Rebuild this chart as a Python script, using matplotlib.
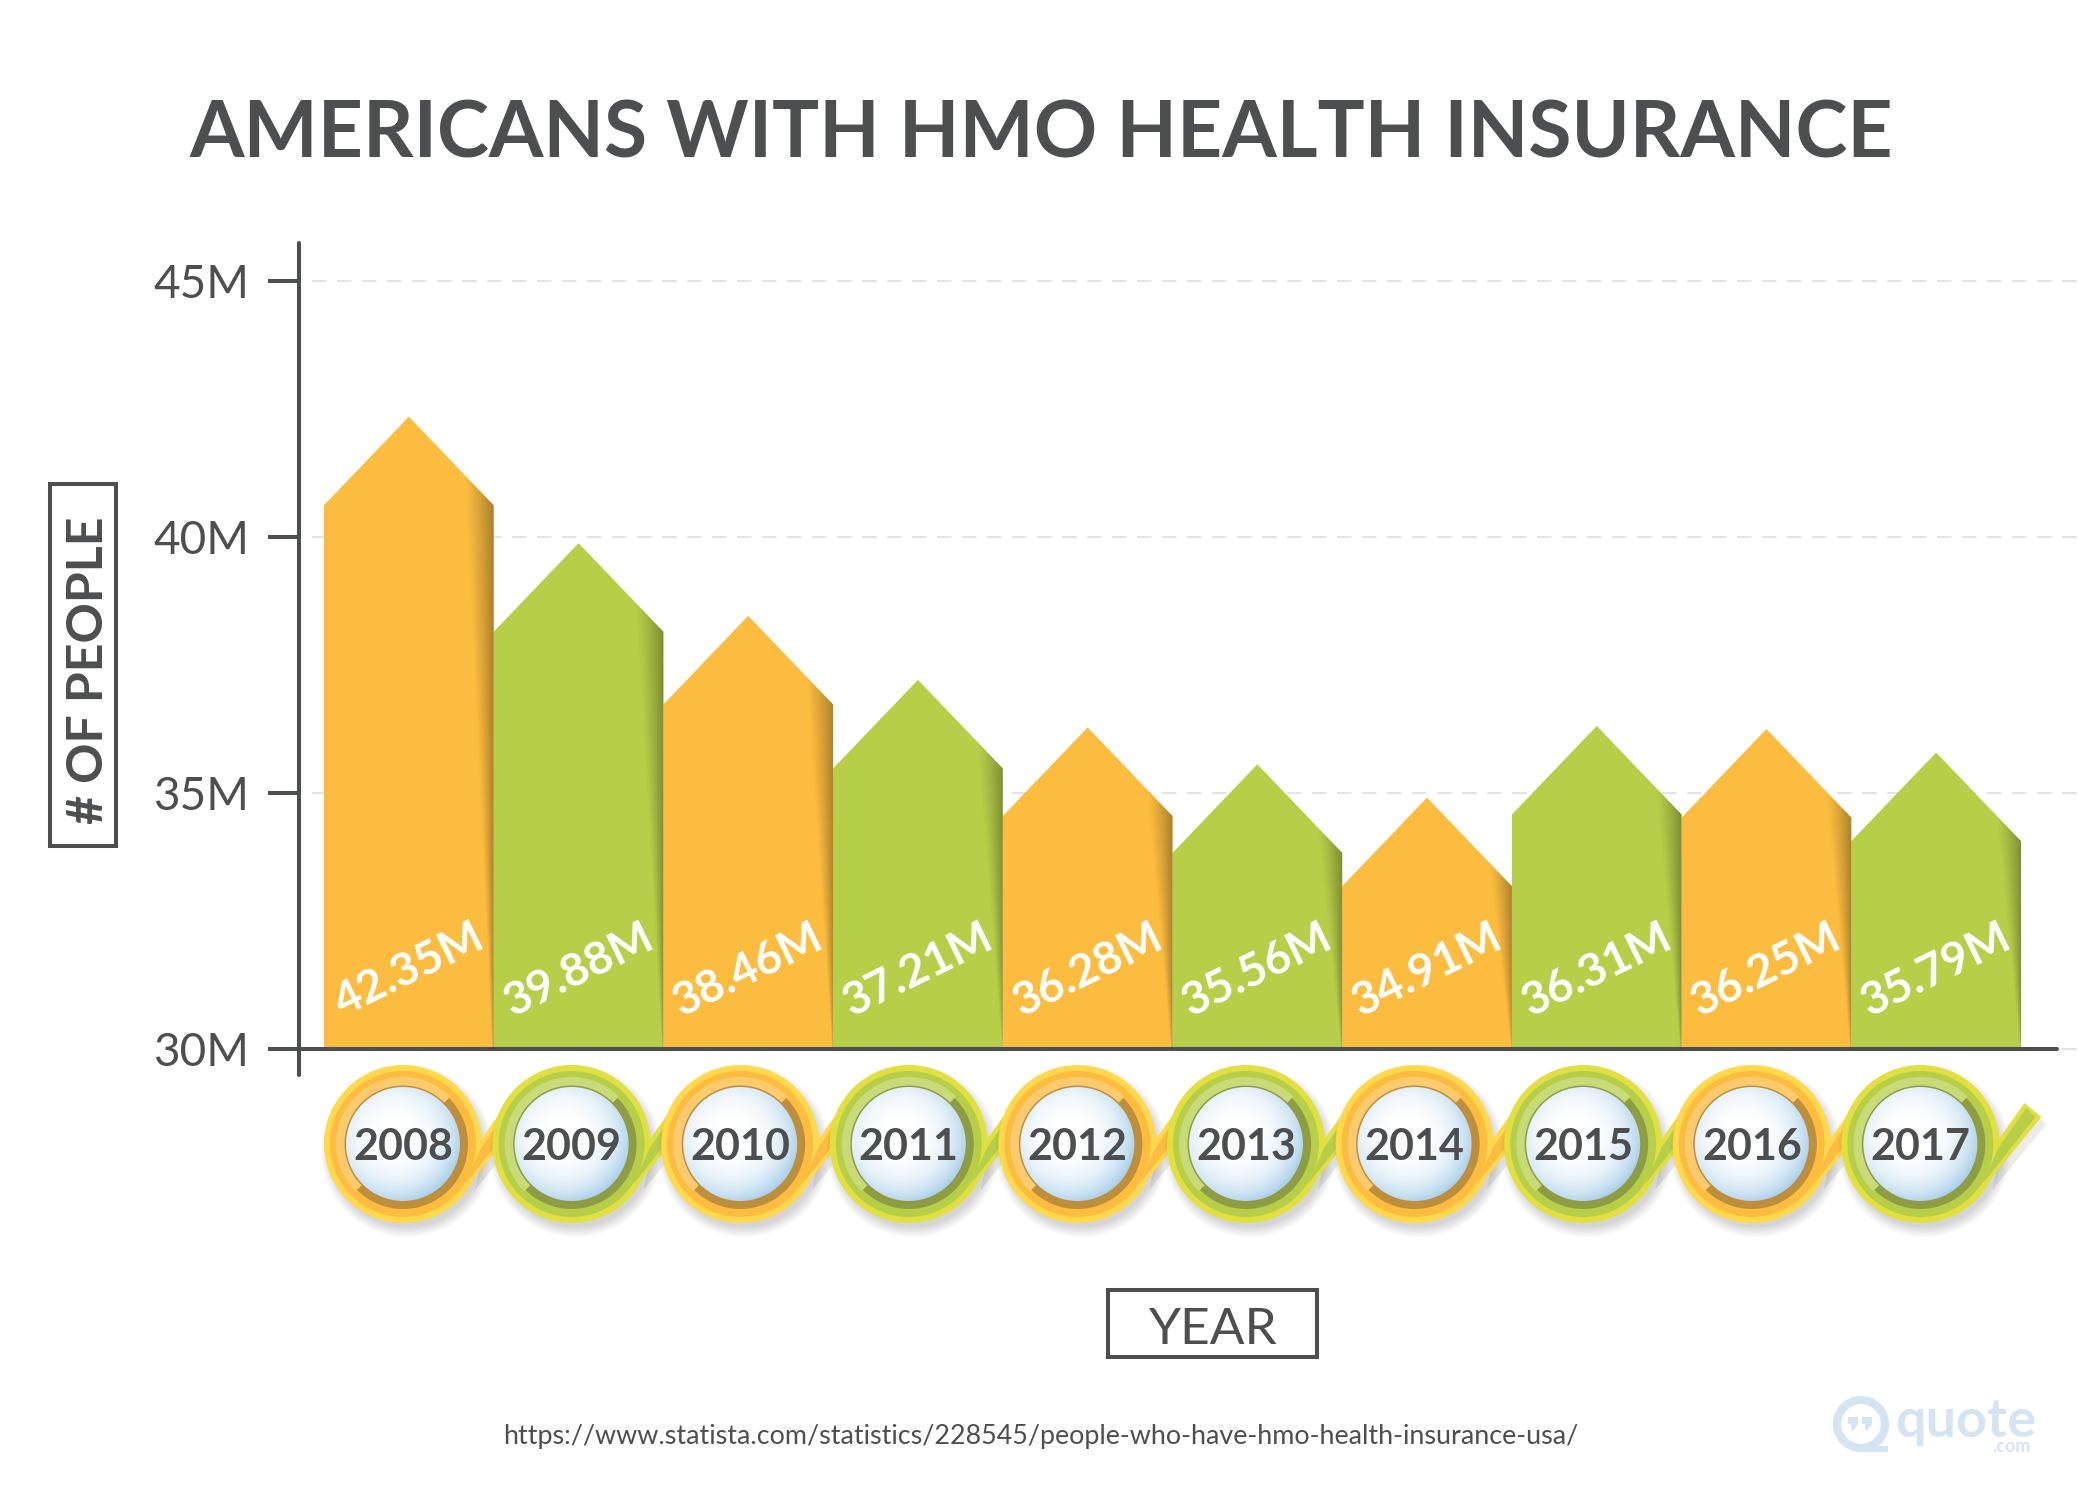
import numpy as np
import matplotlib
matplotlib.use('Agg')
import matplotlib.pyplot as plt
from matplotlib.patches import Circle, Polygon, Rectangle, Wedge
from matplotlib.colors import to_rgb

years = ['2008', '2009', '2010', '2011', '2012', '2013', '2014', '2015', '2016', '2017']
values = [42.35, 39.88, 38.46, 37.21, 36.28, 35.56, 34.91, 36.31, 36.25, 35.79]
y_ticks = [30, 35, 40, 45]
y_tick_labels = ['30M', '35M', '40M', '45M']

W, H = 2083, 1495
GREY = '#4d4e50'
FONT = 'Lato'
# fill, rim, light arc, dark arc
orange = ['#fbbc3f', '#ffd84c', '#fdcb6e', '#bd8e3b']
green = ['#b7ce49', '#e2e040', '#c9da78', '#8e9c44']
shoulder = 1.73

fig = plt.figure(figsize=(W / 100, H / 100), dpi=100, facecolor='white')


def px_rect(x0, y0, x1, y1):
    return [x0 / W, 1 - y1 / H, (x1 - x0) / W, (y1 - y0) / H]


# pixel overlay for the decoration, sits under the chart
deco = fig.add_axes([0, 0, 1, 1], zorder=1)
deco.set_xlim(0, W)
deco.set_ylim(H, 0)
deco.axis('off')

# main chart, x in bar units: bar 0 starts at 324px, each bar is 169.7px
ax = fig.add_axes(px_rect(299, 243, 2057, 1049), zorder=2)
ax.patch.set_visible(False)
x_lim = (-0.5 - 25 / 169.7, 9.5 + 36 / 169.7)
y_lim = (30, 30 + 806 / 51.2)

for t in y_ticks:
    # grid runs off the right edge of the picture
    ax.plot([-0.57, 10.5], [t, t], color='#e4e4e4', lw=1.5, dashes=(7, 5), clip_on=False, zorder=0)

for i, v in enumerate(values):
    st = orange if i % 2 == 0 else green
    body = Polygon([[i - .5, 30], [i - .5, v - shoulder], [i, v], [i + .5, v - shoulder], [i + .5, 30]],
                   closed=True, fc=st[0], ec='none', zorder=2)
    ax.add_patch(body)
    # dark fold on the right side, fades out towards the base
    nx, ny = 60, 120
    xx, yy = np.meshgrid(np.linspace(0, 1, nx), np.linspace(0, 1, ny))
    width = 0.05 + 0.95 * yy
    a = np.clip((xx - (1 - width)) / width, 0, 1) ** 1.2 * 0.32
    shade = np.zeros((ny, nx, 4))
    shade[..., 3] = a
    im = ax.imshow(shade, extent=[i + .5 - .19, i + .5, 30, v], origin='lower', aspect='auto',
                   zorder=3, interpolation='bilinear')
    im.set_clip_path(body)
    ax.text(i, 31.55, f'{v:.2f}M', color='white', fontsize=33, family=FONT, weight='bold', rotation=26,
            rotation_mode='anchor', ha='center', va='center', zorder=5)

ax.set_xlim(x_lim)
ax.set_ylim(y_lim)
ax.set_xticks([])
ax.set_yticks(y_ticks, y_tick_labels, fontsize=33, family=FONT, color=GREY)
ax.tick_params(axis='y', length=22, width=2.9, color=GREY, pad=14)
for s in ['top', 'right']:
    ax.spines[s].set_visible(False)
for s in ['left', 'bottom']:
    ax.spines[s].set_linewidth(2.9)
    ax.spines[s].set_color(GREY)
    ax.spines[s].set_capstyle('round')
ax.plot([0, 0], [0, -26 / 806], transform=ax.transAxes, color=GREY, lw=2.9, clip_on=False,
        solid_capstyle='round')

# year badges
yy, xx = np.mgrid[-1:1:120j, -1:1:120j]
dist = np.hypot(xx + 0.15, yy + 0.15)
t = np.clip(dist / 1.2, 0, 1) ** 3
c0, c1 = np.array(to_rgb('#ffffff')), np.array(to_rgb('#a9cfea'))
sphere = c0 + (c1 - c0) * t[..., None]

for i, year in enumerate(years):
    st = orange if i % 2 == 0 else green
    cx, cy = 403 + 168.6 * i, 1144
    tail_out = np.array([[75, 0], [104, -41], [121, -27], [67, 39]]) + [cx, cy]
    tail_in = np.array([[78, 4], [106, -36], [115, -27], [62, 40]]) + [cx, cy]
    for k in range(7):
        deco.add_patch(Circle((cx + 4, cy + 7), 79 + 7 - k * 1.6, fc='black', ec='none', alpha=0.025, zorder=2 + i * .1))
    deco.add_patch(Polygon(tail_out + [5, 7], fc='black', ec='none', alpha=0.08, zorder=2 + i * .1))
    z = 2.01 + i * .1
    deco.add_patch(Polygon(tail_out, fc=st[1], ec='none', zorder=z))
    deco.add_patch(Circle((cx, cy), 79, fc=st[1], ec='none', zorder=z))
    deco.add_patch(Polygon(tail_in, fc=st[0], ec='none', zorder=z))
    deco.add_patch(Circle((cx, cy), 73, fc=st[0], ec='none', zorder=z))
    # y axis of deco is flipped so angles run clockwise
    deco.add_patch(Wedge((cx, cy), 67, 135, 315, width=10, fc=st[2], ec='none', zorder=z))
    deco.add_patch(Wedge((cx, cy), 65, -45, 135, width=8, fc=st[3], ec='none', zorder=z))
    deco.add_patch(Circle((cx, cy), 58.5, fc=st[3], ec='none', zorder=z))
    im = deco.imshow(sphere, extent=[cx - 58, cx + 58, cy + 58, cy - 58], aspect='auto', zorder=z, interpolation='bilinear')
    clip = Circle((cx, cy), 57, transform=deco.transData)
    im.set_clip_path(clip)
    deco.text(cx, 1160, year, fontsize=31, family=FONT, weight='bold', color=GREY, ha='center', va='baseline', zorder=z + .05)
deco.set_xlim(0, W)
deco.set_ylim(H, 0)

# title, axis names, source
deco.text(1041, 157, 'AMERICANS WITH HMO HEALTH INSURANCE', fontsize=56.5, family=FONT, weight='bold', color=GREY,
          ha='center', va='baseline')
deco.add_patch(Rectangle((50, 484), 66, 362, fc='none', ec=GREY, lw=2.9))
deco.text(103, 670, '# OF PEOPLE', fontsize=36, family=FONT, weight='bold', color=GREY, rotation=90,
          rotation_mode='anchor', ha='center', va='baseline')
deco.add_patch(Rectangle((1108, 1290), 209, 67, fc='none', ec=GREY, lw=2.9))
deco.text(1213, 1344, 'YEAR', fontsize=37, family=FONT, color=GREY, ha='center', va='baseline')
deco.text(1041, 1444, 'https://www.statista.com/statistics/228545/people-who-have-hmo-health-insurance-usa/',
          fontsize=19.4, family=FONT, color=GREY, ha='center', va='baseline')

# logo
logo = '#d5e4f3'
deco.add_patch(Circle((1861, 1424), 24, fc='none', ec=logo, lw=6))
deco.add_patch(Rectangle((1861, 1446), 27, 6, fc=logo, ec='none'))
for qx in [1848, 1862]:
    deco.add_patch(Polygon([[qx, 1417], [qx + 10, 1417], [qx + 10, 1424], [qx + 6, 1430], [qx + 3, 1430], [qx + 3, 1424], [qx, 1424]],
                           fc=logo, ec='none'))
deco.text(1895, 1437, 'quote', fontsize=39, family=FONT, weight='bold', color=logo, ha='left', va='baseline')
deco.text(2031, 1452, '.com', fontsize=13, family=FONT, weight='bold', color=logo, ha='right', va='baseline')

fig.savefig('out.png', dpi=100)
